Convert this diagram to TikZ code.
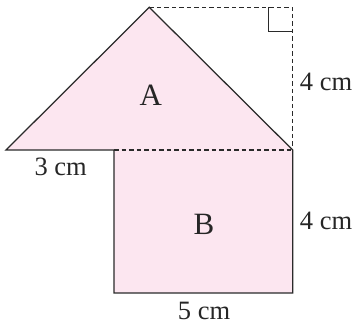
\documentclass[tikz,border=0pt]{standalone}
\usepackage{fontspec}
\setmainfont{Liberation Serif}
\definecolor{shapefill}{HTML}{FCE6F0}
\definecolor{edge}{HTML}{2A2A2A}
\begin{document}
\begin{tikzpicture}[x=1pt,y=-1pt,
  solidedge/.style={draw=edge,line width=1.25pt,line join=miter},
  dashedge/.style={draw=edge,line width=1.25pt,dash pattern=on 4.5pt off 3pt},
  lbl/.style={font=\fontsize{26.5}{30}\selectfont,text=black!85,inner sep=0pt},
  biglbl/.style={font=\fontsize{31}{34}\selectfont,text=black!85,inner sep=0pt}]
\useasboundingbox (0,0) rectangle (356,326);
\coordinate (apex) at (149.3,7.3);
\coordinate (left) at (6,150);
\coordinate (right) at (292.7,150);
\coordinate (inner) at (114,150);
\coordinate (bl) at (114,293);
\coordinate (br) at (292.7,293);
\coordinate (corner) at (292.7,7.3);
% fills
\fill[shapefill] (apex) -- (right) -- (left) -- cycle;
\fill[shapefill] (inner) rectangle (br);
% dashed lines
\draw[dashedge] (apex) -- (corner) -- (right);
\draw[dashedge] (inner) -- (right);
% right angle mark
\draw[draw=edge,line width=1.25pt] (268.7,7.3) -- (268.7,31.7) -- (292.7,31.7);
% solid outline
\draw[solidedge] (inner) -- (left) -- (apex) -- (right) -- (br) -- (bl) -- (inner);
% labels
\node[biglbl] (la) at (150.7,95.5) {A};
\node[biglbl] (lb) at (204,224) {B};
\node[lbl] (l4a) at (326,81.7) {4 cm};
\node[lbl] (l4b) at (326,221) {4 cm};
\node[lbl] (l3) at (60.7,167) {3 cm};
\node[lbl] (l5) at (204,311) {5 cm};
\end{tikzpicture}
\end{document}
